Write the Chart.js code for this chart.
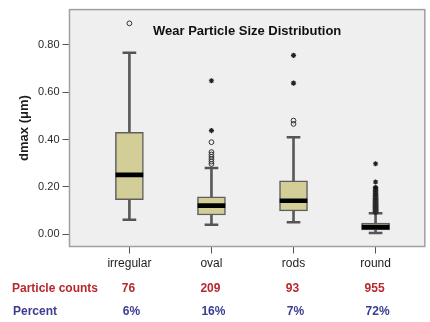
<!DOCTYPE html>
<html>
<head>
<meta charset="utf-8">
<script src="https://cdn.jsdelivr.net/npm/chart.js@4/dist/chart.umd.min.js"></script>
<style>
html,body{margin:0;padding:0;background:#ffffff;}
#wrap{width:430px;height:322px;position:relative;}
</style>
</head>
<body>
<div id="wrap"><canvas id="c" width="430" height="322"></canvas></div>
<script>
// ---- data ----
const categories = ['irregular', 'oval', 'rods', 'round'];
const whiskerLow  = [0.062, 0.041, 0.051, 0.006];
const q1          = [0.146, 0.082, 0.099, 0.019];
const median      = [0.251, 0.121, 0.142, 0.031];
const q3          = [0.430, 0.158, 0.226, 0.048];
const whiskerHigh = [0.766, 0.280, 0.410, 0.089];
const outlierCircles = [
  [0.890],
  [0.389, 0.347, 0.337, 0.327, 0.317, 0.307, 0.297],
  [0.480, 0.466],
  [0.093, 0.097, 0.101, 0.105, 0.109, 0.113, 0.117, 0.121, 0.125, 0.129, 0.133, 0.138, 0.142, 0.147, 0.152, 0.158, 0.164, 0.171, 0.179, 0.187, 0.196]
];
const outlierStars = [
  [],
  [0.648, 0.438],
  [0.755, 0.638],
  [0.298, 0.221]
];
const particleCounts = [76, 209, 93, 955];
const percents = ['6%', '16%', '7%', '72%'];
const yTicks = [0.00, 0.20, 0.40, 0.60, 0.80];
const chartTitle = 'Wear Particle Size Distribution';
const yTitle = 'dmax (\u03bcm)';
const rowLabels = ['Particle counts', 'Percent'];

// ---- build datasets ----
const pos = categories.map((c, i) => i + 1);
const boxData = pos.map((x, i) => ({x: x, y: [q1[i], q3[i]]}));
const whiskerData = pos.map((x, i) => ({x: x, y: [whiskerLow[i], whiskerHigh[i]]}));
const capLowData = pos.map((x, i) => ({x: x, y: [whiskerLow[i] - 0.004, whiskerLow[i] + 0.004]}));
const capHighData = pos.map((x, i) => ({x: x, y: [whiskerHigh[i] - 0.004, whiskerHigh[i] + 0.004]}));
const medianData = pos.map((x, i) => ({x: x, y: [median[i] - 0.0085, median[i] + 0.0085]}));
const circleData = [];
outlierCircles.forEach((arr, i) => arr.forEach(v => circleData.push({x: pos[i], y: v})));
const starData = [];
outlierStars.forEach((arr, i) => arr.forEach(v => starData.push({x: pos[i], y: v})));

const deco = {
  id: 'deco',
  beforeDraw(chart) {
    const {ctx, chartArea: a} = chart;
    ctx.save();
    ctx.fillStyle = '#efefef';
    ctx.fillRect(a.left, a.top, a.right - a.left, a.bottom - a.top);
    ctx.restore();
  },
  afterDraw(chart) {
    const {ctx, chartArea: a} = chart;
    const xs = chart.scales.x;
    ctx.save();
    // frame
    ctx.strokeStyle = '#a0a0a0';
    ctx.lineWidth = 1.5;
    ctx.strokeRect(a.left, a.top, a.right - a.left, a.bottom - a.top);
    // title inside plot
    ctx.fillStyle = '#111';
    ctx.font = 'bold 13px "Liberation Sans", Arial, sans-serif';
    ctx.textAlign = 'center';
    ctx.textBaseline = 'middle';
    ctx.fillText(chartTitle, (a.left + a.right) / 2, 31);
    // table rows
    ctx.font = 'bold 12px "Liberation Sans", Arial, sans-serif';
    ctx.textAlign = 'left';
    ctx.fillStyle = '#b8282e';
    ctx.fillText(rowLabels[0], 12, 289);
    ctx.fillStyle = '#3c3c92';
    ctx.fillText(rowLabels[1], 13, 312);
    ctx.textAlign = 'center';
    pos.forEach((p, i) => {
      const px = xs.getPixelForValue(p);
      ctx.fillStyle = '#b8282e';
      ctx.fillText(String(particleCounts[i]), px - 1, 289);
      ctx.fillStyle = '#3c3c92';
      ctx.fillText(percents[i], px + 2, 312);
    });
    ctx.restore();
  }
};

const barCommon = {type: 'bar', grouped: false, borderSkipped: false};

new Chart(document.getElementById('c'), {
  type: 'bar',
  data: {
    datasets: [
      {type: 'scatter', data: starData, pointStyle: 'star', radius: 2.6, borderColor: '#222', borderWidth: 1.2, backgroundColor: '#222'},
      {type: 'scatter', data: circleData, pointStyle: 'circle', radius: 2.4, borderColor: '#333', borderWidth: 1,
        backgroundColor: ctx => (ctx.raw && ctx.raw.x === 4) ? '#111' : 'rgba(0,0,0,0)'},
      Object.assign({}, barCommon, {data: medianData, backgroundColor: '#000', borderWidth: 0, barThickness: 27}),
      Object.assign({}, barCommon, {data: boxData, backgroundColor: '#d3ce98', borderColor: '#5e5e5e', borderWidth: 1.5, barThickness: 28}),
      Object.assign({}, barCommon, {data: capLowData, backgroundColor: '#555', borderWidth: 0, barThickness: 13}),
      Object.assign({}, barCommon, {data: capHighData, backgroundColor: '#555', borderWidth: 0, barThickness: 13}),
      Object.assign({}, barCommon, {data: whiskerData, backgroundColor: '#5a5a5a', borderWidth: 0, barThickness: 2})
    ]
  },
  options: {
    responsive: false,
    animation: false,
    events: [],
    layout: {padding: {top: 8, right: 1, left: 0, bottom: 0}},
    plugins: {legend: {display: false}, tooltip: {enabled: false}, title: {display: false}},
    scales: {
      x: {
        type: 'linear',
        offset: false,
        min: 0.27, max: 4.6,
        afterBuildTicks: s => { s.ticks = pos.map(v => ({value: v})); },
        afterFit: s => { s.height = 75.5; },
        grid: {display: true, offset: false, drawOnChartArea: false, drawTicks: true, tickLength: 7, color: '#555', lineWidth: 1},
        border: {display: false},
        ticks: {
          callback: v => categories[v - 1] || '',
          font: {family: '"Liberation Sans", Arial, sans-serif', size: 12},
          color: '#1e1e1e', padding: 3, maxRotation: 0, autoSkip: false
        }
      },
      y: {
        type: 'linear',
        min: -0.051, max: 0.948,
        afterBuildTicks: s => { s.ticks = yTicks.map(v => ({value: v})); },
        afterFit: s => { s.width = 69.5; },
        grid: {display: true, drawOnChartArea: false, drawTicks: true, tickLength: 7, color: '#555', lineWidth: 1},
        border: {display: false},
        ticks: {
          callback: v => v.toFixed(2),
          font: {family: '"Liberation Sans", Arial, sans-serif', size: 11},
          color: '#2a2a2a', padding: 3
        },
        title: {
          display: true, text: yTitle,
          font: {family: '"Liberation Sans", Arial, sans-serif', size: 13, weight: 'bold'},
          color: '#1e1e1e', padding: {top: 17, bottom: 0}
        }
      }
    }
  },
  plugins: [deco]
});
</script>
</body>
</html>
